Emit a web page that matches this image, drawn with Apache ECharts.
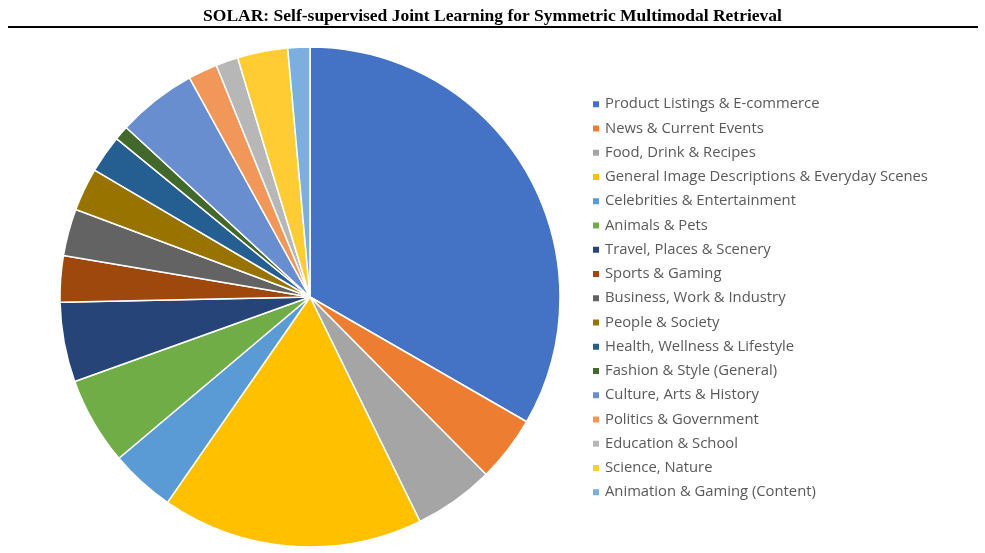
<!DOCTYPE html>
<html>
<head>
<meta charset="utf-8">
<script src="https://cdn.jsdelivr.net/npm/echarts@6/dist/echarts.min.js"></script>
<style>
  html, body { margin: 0; padding: 0; background: #fff; }
  #root { width: 985px; height: 553px; }
</style>
</head>
<body>
<div id="root"></div>
<script>
var titleText = 'SOLAR: Self-supervised Joint Learning for Symmetric Multimodal Retrieval';

var categories = [
  'Product Listings & E-commerce',
  'News & Current Events',
  'Food, Drink & Recipes',
  'General Image Descriptions & Everyday Scenes',
  'Celebrities & Entertainment',
  'Animals & Pets',
  'Travel, Places & Scenery',
  'Sports & Gaming',
  'Business, Work & Industry',
  'People & Society',
  'Health, Wellness & Lifestyle',
  'Fashion & Style (General)',
  'Culture, Arts & History',
  'Politics & Government',
  'Education & School',
  'Science, Nature',
  'Animation & Gaming (Content)'
];

// share of samples, percent
var shares = [33.3, 4.25, 5.18, 16.9, 4.19, 5.67, 5.14, 3.0, 3.03, 2.78, 2.44, 0.94, 5.14, 1.89, 1.44, 3.25, 1.42];

var colors = [
  '#4472C4', '#ED7D31', '#A5A5A5', '#FFC000', '#5B9BD5', '#70AD47',
  '#264478', '#9E480E', '#636363', '#997300', '#255E91', '#43682B',
  '#698ED0', '#F1975A', '#B7B7B7', '#FFCD33', '#7CAFDD'
];

var chart = echarts.init(document.getElementById('root'));

var pieData = categories.map(function (name, i) {
  return { name: name, value: shares[i] };
});

chart.setOption({
  animation: false,
  color: colors,
  title: {
    text: titleText,
    left: 'center',
    top: 2,
    textStyle: {
      fontFamily: 'Liberation Serif',
      fontWeight: 'bold',
      fontSize: 17.5,
      color: '#000'
    }
  },
  graphic: [{
    type: 'line',
    shape: { x1: 8, y1: 27, x2: 978, y2: 27 },
    style: { stroke: '#000', lineWidth: 2 }
  }],
  legend: {
    orient: 'vertical',
    left: 586,
    top: 91,
    itemWidth: 8,
    itemHeight: 8,
    itemGap: 8,
    icon: 'rect',
    textStyle: {
      fontFamily: 'Open Sans',
      fontSize: 14.8,
      lineHeight: 16.25,
      color: '#595959'
    },
    data: categories
  },
  series: [{
    type: 'pie',
    center: [310, 297],
    radius: [0, 250],
    startAngle: 90,
    clockwise: true,
    label: { show: false },
    labelLine: { show: false },
    itemStyle: { borderColor: '#fff', borderWidth: 1.5 },
    emphasis: { disabled: true },
    data: pieData
  }]
});
</script>
</body>
</html>
